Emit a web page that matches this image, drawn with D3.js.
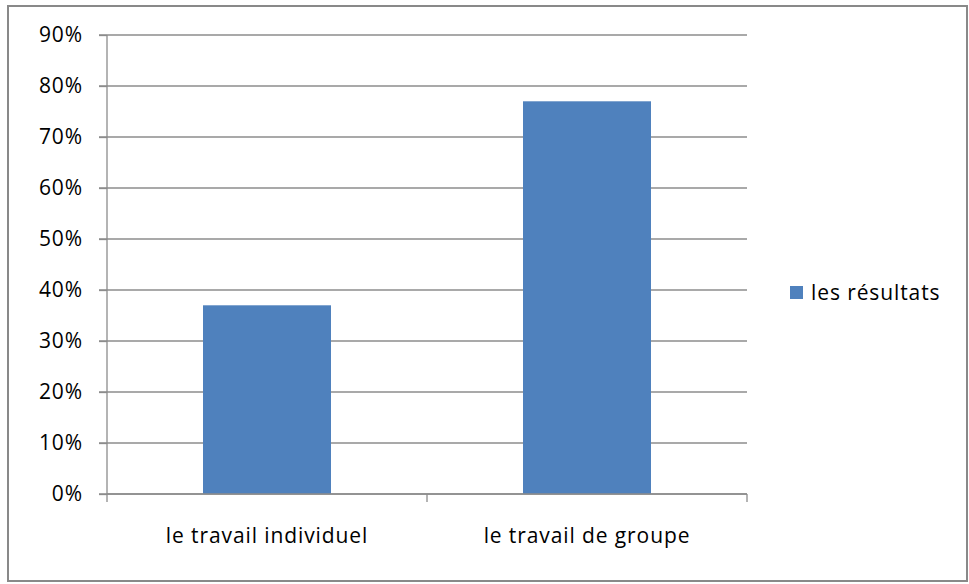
<!DOCTYPE html>
<html><head><meta charset="utf-8">
<script src="https://cdn.jsdelivr.net/npm/d3@7"></script>
<style>body{margin:0;background:#fff}svg{display:block}text{font-family:"Open Sans",Lato,sans-serif;fill:#000;letter-spacing:0.9px}</style>
</head><body><svg id="c" width="969" height="584"></svg>
<script>
const categories = ["le travail individuel", "le travail de groupe"];
const values = [0.37, 0.77];
const seriesName = "les résultats";
const yTicks = [0,0.1,0.2,0.3,0.4,0.5,0.6,0.7,0.8,0.9];

const svg = d3.select("#c");
const FONT = '"Open Sans",Lato,sans-serif';
svg.append("rect").attr("x",8).attr("y",6).attr("width",959).attr("height",575)
  .attr("fill","#fff").attr("stroke","#898989").attr("stroke-width",2);

const x0 = 107, x1 = 747, yTop = 35, yBot = 494;
const x = d3.scaleBand().domain(categories).range([x0,x1]).paddingInner(0.6).paddingOuter(0.3);
const y = d3.scaleLinear().domain([0,0.9]).range([yBot,yTop]);

// gridlines
svg.append("g").selectAll("line").data(yTicks).join("line")
  .attr("x1",99).attr("x2",x1).attr("y1",d=>y(d)).attr("y2",d=>y(d))
  .attr("stroke","#8c8c8c").attr("stroke-width",1.3);

// y axis
const yAxis = d3.axisLeft(y).tickValues(yTicks).tickFormat(d3.format(".0%")).tickSize(8).tickPadding(16);
const gy = svg.append("g").attr("transform",`translate(${x0},0)`).call(yAxis);
gy.select(".domain").attr("stroke","#8c8c8c").attr("stroke-width",1.3).attr("d",`M0,${yTop}V${yBot}`);
gy.selectAll(".tick line").attr("stroke","#8c8c8c").attr("stroke-width",1.3);
gy.selectAll("text").style("font-size","21px").style("font-family",FONT).style("letter-spacing","0.9px").attr("fill","#000");

// bars
svg.append("g").selectAll("rect").data(values).join("rect")
  .attr("x",(d,i)=>x(categories[i])).attr("width",x.bandwidth())
  .attr("y",d=>y(d)).attr("height",d=>yBot-y(d)).attr("fill","#4F81BD");

// x axis
const xb = d3.scaleLinear().domain([0,categories.length]).range([x0,x1]);
const gx = svg.append("g");
gx.append("line").attr("x1",x0).attr("x2",x1).attr("y1",yBot).attr("y2",yBot)
  .attr("stroke","#8c8c8c").attr("stroke-width",1.3);
gx.selectAll("line.t").data(d3.range(categories.length+1)).join("line").attr("class","t")
  .attr("x1",d=>xb(d)).attr("x2",d=>xb(d)).attr("y1",yBot).attr("y2",yBot+8)
  .attr("stroke","#8c8c8c").attr("stroke-width",1.3);
gx.selectAll("text").data(categories).join("text")
  .attr("x",d=>x(d)+x.bandwidth()/2).attr("y",543).attr("text-anchor","middle")
  .style("font-size","21px").text(d=>d);

// legend
const lg = svg.append("g");
lg.append("rect").attr("x",790).attr("y",286).attr("width",13).attr("height",13).attr("fill","#4F81BD");
lg.append("text").attr("x",811).attr("y",300).style("font-size","21px").text(seriesName);
</script></body></html>
